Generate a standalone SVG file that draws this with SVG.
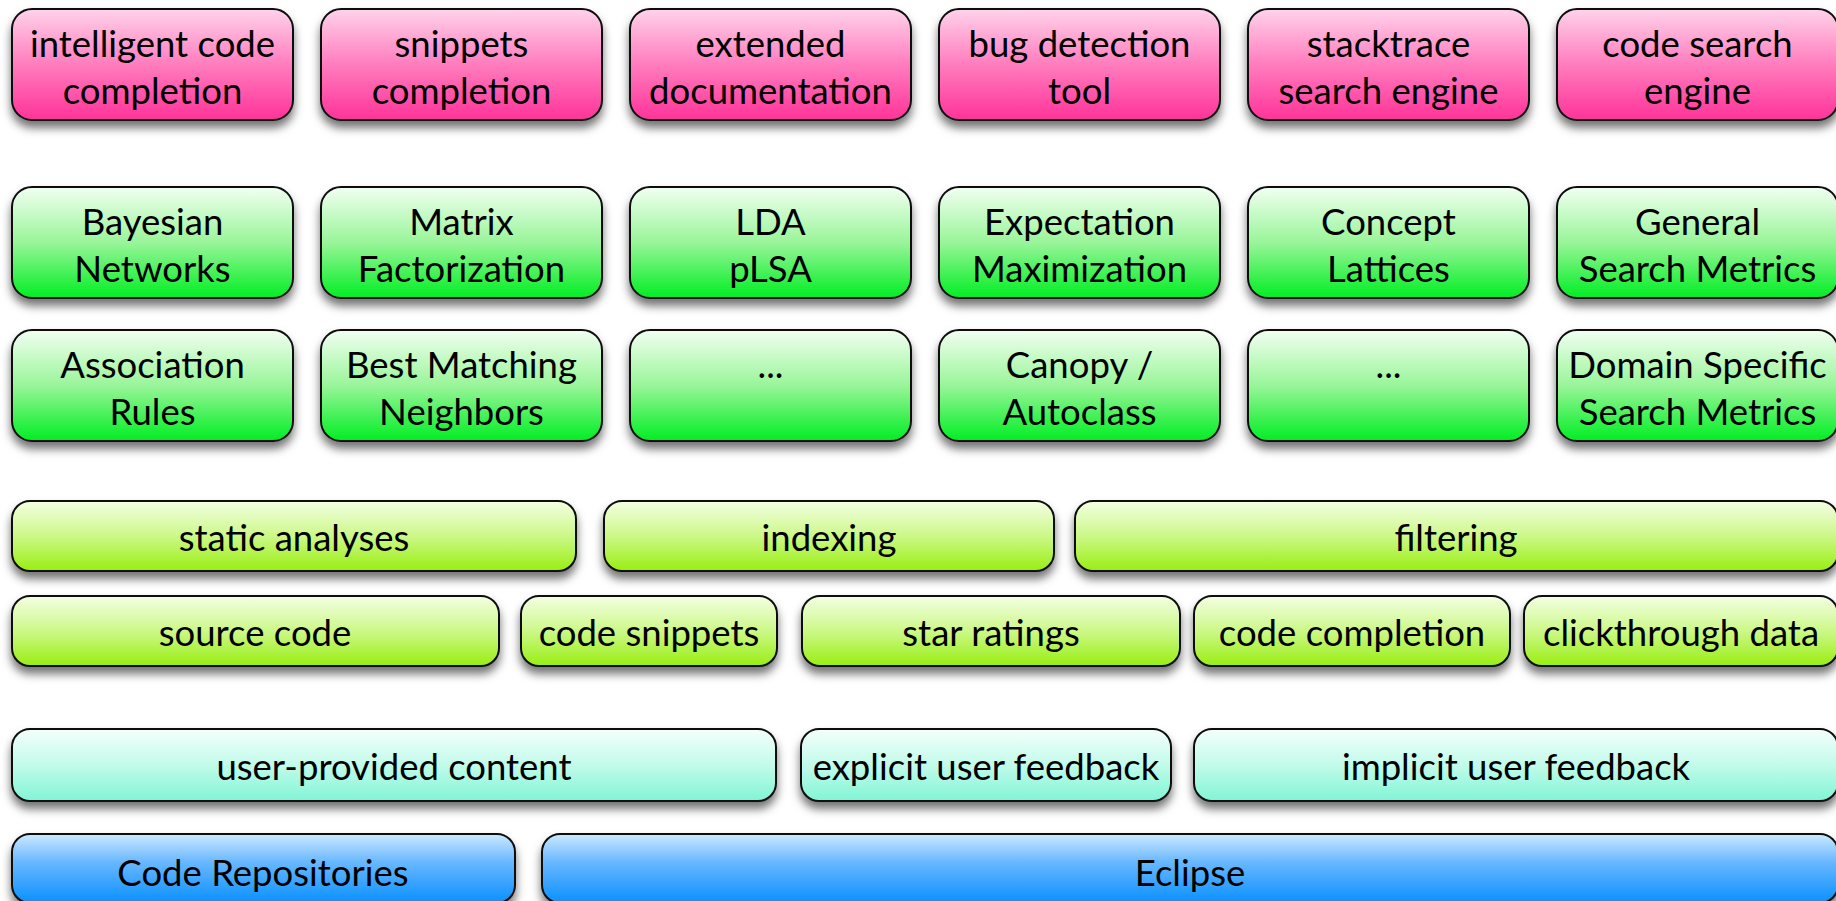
<svg xmlns="http://www.w3.org/2000/svg" width="1836" height="901" viewBox="0 0 1836 901">
<defs>
<linearGradient id="gPink" x1="0" y1="0" x2="0" y2="1"><stop offset="0" stop-color="#ffd3ea"/><stop offset="0.5" stop-color="#ff7cbe"/><stop offset="1" stop-color="#ff3399"/></linearGradient>
<linearGradient id="gGreen" x1="0" y1="0" x2="0" y2="1"><stop offset="0" stop-color="#f2fff2"/><stop offset="0.5" stop-color="#99f599"/><stop offset="1" stop-color="#00ee22"/></linearGradient>
<linearGradient id="gLime" x1="0" y1="0" x2="0" y2="1"><stop offset="0" stop-color="#f4ffe4"/><stop offset="0.5" stop-color="#ccf888"/><stop offset="1" stop-color="#99ee11"/></linearGradient>
<linearGradient id="gCyan" x1="0" y1="0" x2="0" y2="1"><stop offset="0" stop-color="#f4fffc"/><stop offset="0.5" stop-color="#c2fbea"/><stop offset="1" stop-color="#80f5d6"/></linearGradient>
<linearGradient id="gBlue" x1="0" y1="0" x2="0" y2="1"><stop offset="0" stop-color="#cce9ff"/><stop offset="0.4" stop-color="#6ab8ff"/><stop offset="1" stop-color="#0a90ff"/></linearGradient>
<filter id="sh" x="-10%" y="-20%" width="120%" height="160%"><feDropShadow dx="0" dy="7" stdDeviation="5" flood-color="#000" flood-opacity="0.55"/></filter>
</defs>
<style>
rect{stroke:#111;stroke-width:2;filter:url(#sh)}
.p{fill:url(#gPink)}.g{fill:url(#gGreen)}.l{fill:url(#gLime)}.c{fill:url(#gCyan)}.b{fill:url(#gBlue)}
text{font-family:Lato,"Open Sans","Liberation Sans",sans-serif;font-size:36.5px;fill:#000;text-anchor:middle}
</style>
<rect width="1836" height="901" fill="#fff" style="stroke:none;filter:none"/>
<g id="row1">
<g id="n-icc"><rect class="p" x="12" y="9" width="281" height="111" rx="20"/><text x="152.5" y="57">intelligent code</text><text x="152.5" y="104">completion</text></g>
<g id="n-sc"><rect class="p" x="321" y="9" width="281" height="111" rx="20"/><text x="461.5" y="57">snippets</text><text x="461.5" y="104">completion</text></g>
<g id="n-ed"><rect class="p" x="630" y="9" width="281" height="111" rx="20"/><text x="770.5" y="57">extended</text><text x="770.5" y="104">documentation</text></g>
<g id="n-bdt"><rect class="p" x="939" y="9" width="281" height="111" rx="20"/><text x="1079.5" y="57">bug detection</text><text x="1079.5" y="104">tool</text></g>
<g id="n-sse"><rect class="p" x="1248" y="9" width="281" height="111" rx="20"/><text x="1388.5" y="57">stacktrace</text><text x="1388.5" y="104">search engine</text></g>
<g id="n-cse"><rect class="p" x="1557" y="9" width="281" height="111" rx="20"/><text x="1697.5" y="57">code search</text><text x="1697.5" y="104">engine</text></g>
</g>
<g id="row2">
<g id="n-bn"><rect class="g" x="12" y="187" width="281" height="111" rx="20"/><text x="152.5" y="235">Bayesian</text><text x="152.5" y="282">Networks</text></g>
<g id="n-mf"><rect class="g" x="321" y="187" width="281" height="111" rx="20"/><text x="461.5" y="235">Matrix</text><text x="461.5" y="282">Factorization</text></g>
<g id="n-lda"><rect class="g" x="630" y="187" width="281" height="111" rx="20"/><text x="770.5" y="235">LDA</text><text x="770.5" y="282">pLSA</text></g>
<g id="n-em"><rect class="g" x="939" y="187" width="281" height="111" rx="20"/><text x="1079.5" y="235">Expectation</text><text x="1079.5" y="282">Maximization</text></g>
<g id="n-cl"><rect class="g" x="1248" y="187" width="281" height="111" rx="20"/><text x="1388.5" y="235">Concept</text><text x="1388.5" y="282">Lattices</text></g>
<g id="n-gsm"><rect class="g" x="1557" y="187" width="281" height="111" rx="20"/><text x="1697.5" y="235">General</text><text x="1697.5" y="282">Search Metrics</text></g>
</g>
<g id="row3">
<g id="n-ar"><rect class="g" x="12" y="330" width="281" height="111" rx="20"/><text x="152.5" y="378">Association</text><text x="152.5" y="425">Rules</text></g>
<g id="n-bmn"><rect class="g" x="321" y="330" width="281" height="111" rx="20"/><text x="461.5" y="378">Best Matching</text><text x="461.5" y="425">Neighbors</text></g>
<g id="n-e1"><rect class="g" x="630" y="330" width="281" height="111" rx="20"/><text x="770.5" y="378">...</text></g>
<g id="n-ca"><rect class="g" x="939" y="330" width="281" height="111" rx="20"/><text x="1079.5" y="378">Canopy /</text><text x="1079.5" y="425">Autoclass</text></g>
<g id="n-e2"><rect class="g" x="1248" y="330" width="281" height="111" rx="20"/><text x="1388.5" y="378">...</text></g>
<g id="n-dsm"><rect class="g" x="1557" y="330" width="281" height="111" rx="20"/><text x="1697.5" y="378">Domain Specific</text><text x="1697.5" y="425">Search Metrics</text></g>
</g>
<g id="row4">
<g id="n-sa"><rect class="l" x="12" y="501" width="564" height="70" rx="18"/><text x="294" y="551">static analyses</text></g>
<g id="n-ix"><rect class="l" x="604" y="501" width="450" height="70" rx="18"/><text x="829" y="551">indexing</text></g>
<g id="n-fi"><rect class="l" x="1075" y="501" width="763" height="70" rx="18"/><text x="1456" y="551">filtering</text></g>
</g>
<g id="row5">
<g id="n-src"><rect class="l" x="12" y="596" width="487" height="70" rx="18"/><text x="255" y="646">source code</text></g>
<g id="n-cs"><rect class="l" x="521" y="596" width="256" height="70" rx="18"/><text x="649" y="646">code snippets</text></g>
<g id="n-sr"><rect class="l" x="802" y="596" width="378" height="70" rx="18"/><text x="991" y="646">star ratings</text></g>
<g id="n-cc"><rect class="l" x="1194" y="596" width="316" height="70" rx="18"/><text x="1352" y="646">code completion</text></g>
<g id="n-ctd"><rect class="l" x="1524" y="596" width="314" height="70" rx="18"/><text x="1681" y="646">clickthrough data</text></g>
</g>
<g id="row6">
<g id="n-upc"><rect class="c" x="12" y="729" width="764" height="72" rx="18"/><text x="394" y="780">user-provided content</text></g>
<g id="n-euf"><rect class="c" x="801" y="729" width="370" height="72" rx="18"/><text x="986" y="780">explicit user feedback</text></g>
<g id="n-iuf"><rect class="c" x="1194" y="729" width="644" height="72" rx="18"/><text x="1516" y="780">implicit user feedback</text></g>
</g>
<g id="row7">
<g id="n-cr"><rect class="b" x="12" y="834" width="503" height="69" rx="18"/><text x="263" y="886">Code Repositories</text></g>
<g id="n-ecl"><rect class="b" x="542" y="834" width="1296" height="69" rx="18"/><text x="1190" y="886">Eclipse</text></g>
</g>
<g id="connectors"/>
</svg>
